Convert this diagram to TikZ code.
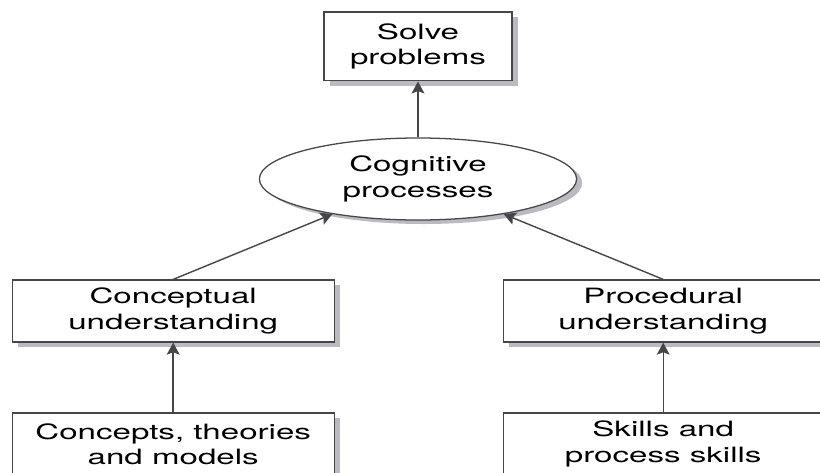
\documentclass[tikz,border=0pt]{standalone}
\usepackage{fontspec}
\setmainfont[FakeStretch=1.57]{TeX Gyre Heros}
\usetikzlibrary{shapes.geometric,shadows,arrows.meta}
\definecolor{LineGrey}{RGB}{70,70,72}
\definecolor{ShadeGrey}{RGB}{186,187,193}

\begin{document}
\begin{tikzpicture}[
		box/.style={rectangle,draw=LineGrey,line width=0.9pt,fill=white,
			align=center,inner sep=0pt,minimum width=#1,minimum height=1.55cm,
			font=\fontsize{15}{18}\selectfont,
			drop shadow={shadow xshift=0.14cm,shadow yshift=-0.13cm,fill=ShadeGrey,opacity=1}},
		oval/.style={ellipse,draw=LineGrey,line width=0.9pt,fill=white,
			align=center,inner sep=0pt,minimum width=7.93cm,minimum height=2.05cm,
			font=\fontsize{15}{18}\selectfont,
			drop shadow={shadow xshift=0.14cm,shadow yshift=-0.1cm,fill=ShadeGrey,opacity=1}},
		link/.style={draw=LineGrey,line width=1pt,-{Stealth[length=3mm,width=3.2mm,inset=0.6mm]}}]
	\useasboundingbox (0,0) rectangle (20.5,-11.8);
	
	% top of the chain
	\node[box=4.7cm,minimum height=1.72cm] (solve) at (10.45,-1.16) {Solve\\problems};
	\node[oval] (cog) at (10.45,-4.475) {Cognitive\\processes};
	
	% the two kinds of understanding
	\node[box=8.05cm] (concept) at (4.33,-7.775) {Conceptual\\understanding};
	\node[box=8.0cm] (proced) at (16.58,-7.775) {Procedural\\understanding};
	
	% what each one rests on
	\node[box=8.05cm] (theory) at (4.33,-11.1) {Concepts, theories\\and models};
	\node[box=8.0cm] (skills) at (16.58,-11.1) {Skills and\\process skills};
	
	\draw[link] (cog.north) -- (solve.south);
	\draw[link] (concept.north) -- (cog);
	\draw[link] (proced.north) -- (cog);
	\draw[link] (theory.north) -- (concept.south);
	\draw[link] (skills.north) -- (proced.south);
\end{tikzpicture}
\end{document}
